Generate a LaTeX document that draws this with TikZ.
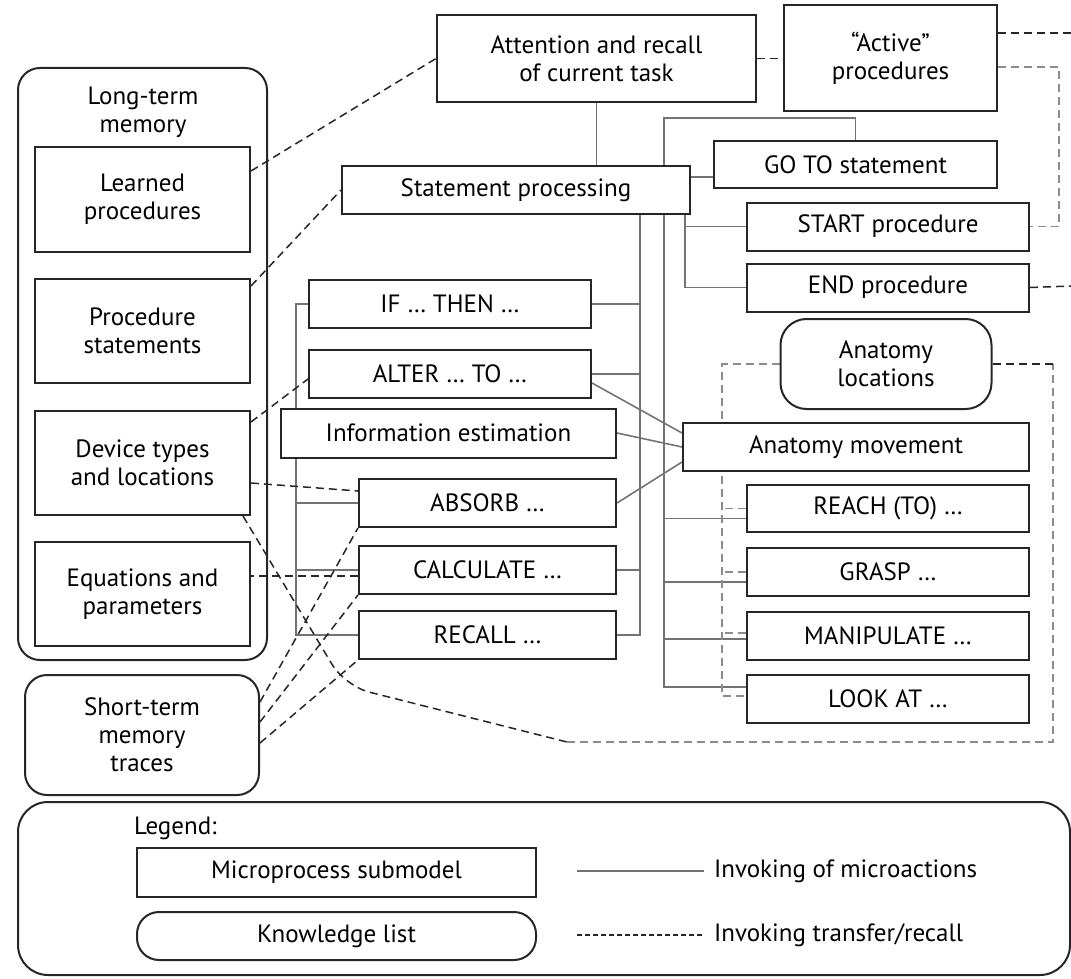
\documentclass[tikz,border=0pt]{standalone}
\usepackage{fontspec}
\setmainfont{PT Sans}
\usepackage{tikz}
\usetikzlibrary{positioning,backgrounds}

\begin{document}
\begin{tikzpicture}[x=1pt,y=-1pt,node distance=14pt,line width=1.5pt,
    font=\fontsize{25}{28}\selectfont,
    micro/.style={draw=black!85,line width=2pt,fill=white,rectangle,minimum height=48pt,align=center,inner sep=2pt},
    know/.style={micro,rounded corners=22pt},
    invoke/.style={draw=black!55,line width=1.6pt},
    transfer/.style={draw=black!85,line width=1.5pt,dash pattern=on 8pt off 5pt},
    transferg/.style={draw=black!45,line width=1.7pt,dash pattern=on 8pt off 5pt}]
    \useasboundingbox (0,0) rectangle (1071,979);

    % knowledge lists
    \node[know,fill=none,minimum width=249pt,minimum height=592pt] (ltm) at (142.5,364) {};
    \node (ltmtitle) [align=center] at (143,112) {Long-term\\memory};
    \node[micro,minimum width=215pt,minimum height=105pt] (learned) at (142.5,199.5) {Learned\\procedures};
    \node[micro,minimum width=215pt,minimum height=104pt] (procst) [below=25pt of learned] {Procedure\\statements};
    \node[micro,minimum width=215pt,minimum height=104pt] (device) [below=26pt of procst] {Device types\\and locations};
    \node[micro,minimum width=215pt,minimum height=104pt] (equat) [below=25pt of device] {Equations and\\parameters};
    \node[know,minimum width=234pt,minimum height=120pt] (stm) at (142,735) {Short-term\\memory\\traces};
    \node[know,minimum width=211pt,minimum height=90pt,rounded corners=26pt] (anatloc) at (886,364) {Anatomy\\locations};

    % microprocess submodels
    \node[micro,minimum width=319pt,minimum height=87pt] (attn) at (596.5,58.5) {Attention and recall\\of current task};
    \node[micro,minimum width=213pt,minimum height=106pt] (active) at (890.5,58) {“Active”\\procedures};
    \node[micro,minimum width=348pt] (stproc) at (516,190) {Statement processing};
    \node[micro,minimum width=283pt,minimum height=47pt] (goto) at (855.5,164.5) {GO TO statement};
    \node[micro,minimum width=282pt] (start) at (888,226.5) {START procedure};
    \node[micro,minimum width=282pt] (endp) [below=11pt of start] {END procedure};
    \node[micro,minimum width=282pt] (ifthen) at (450,304) {IF … THEN …};
    \node[micro,minimum width=282pt] (alter) [below=20pt of ifthen] {ALTER … TO …};
    \node[micro,minimum width=335pt,minimum height=49pt] (infoest) at (448.5,433) {Information estimation};
    \node[micro,minimum width=257pt] (absorb) at (487.5,503) {ABSORB …};
    \node[micro,minimum width=257pt] (calc) [below=17pt of absorb] {CALCULATE …};
    \node[micro,minimum width=257pt] (recall) [below=15pt of calc] {RECALL …};
    \node[micro,minimum width=346pt] (anatmov) at (856,447) {Anatomy movement};
    \node[micro,minimum width=282pt,minimum height=47pt] (reach) at (888,508.5) {REACH (TO) …};
    \node[micro,minimum width=282pt] (grasp) [below=14pt of reach] {GRASP …};
    \node[micro,minimum width=282pt] (manip) [below=14pt of grasp] {MANIPULATE …};
    \node[micro,minimum width=282pt] (lookat) [below=13pt of manip] {LOOK AT …};

    % legend
    \node[know,fill=none,minimum width=1052pt,minimum height=173pt,rounded corners=30pt] (legend) at (544,888.5) {};
    \node[anchor=west] (legtitle) at (130,828) {Legend:};
    \node[micro,minimum width=399pt,minimum height=49pt] (legmicro) at (336.5,872.5) {Microprocess submodel};
    \node[know,minimum width=399pt] (legknow) at (336.5,936) {Knowledge list};
    \node[anchor=west] (legsolid) at (710,871) {Invoking of microactions};
    \node[anchor=west] (legdash) at (710,935) {Invoking transfer/recall};
    \coordinate (solidA) at (577,871);
    \coordinate (dashA) at (577,935);

    \coordinate (rbus) at (664,118);
    \coordinate (mbus) at ([xshift=-51pt]stproc.south east);
    \coordinate (sbus) at ([xshift=-6pt]stproc.south east);
    \coordinate (lbus) at ([xshift=-12pt]ifthen.west);
    \coordinate (lgbus) at (722,364);
    \coordinate (outA) at (1071,33);
    \coordinate (outE) at (1071,286);
    \coordinate (loopK) at (345,686);
    \coordinate (loopA) at (567,742);
    \coordinate (loopB) at (1053,742);
    \coordinate (loopD) at (1059,150);

    \begin{scope}[on background layer]
        % invoking of microactions
        \draw[invoke] (attn.south) -- (attn.south |- stproc.north);
        \draw[invoke] (goto.north) |- (rbus) |- ([yshift=12pt]lookat.west);
        \foreach \n/\s in {reach/-10,grasp/-10,manip/-3}
            \draw[invoke] ([yshift=\s pt]\n.west) -- ([yshift=\s pt]\n.west -| rbus);
        \draw[invoke] ([yshift=13pt]stproc.east) -- ([yshift=13pt]stproc.east -| goto.west);
        \draw[invoke] (sbus) |- (endp.west);
        \draw[invoke] (start.west) -- (start.west -| sbus);
        \draw[invoke] (mbus) |- (recall.east);
        \foreach \n in {ifthen,alter,calc}
            \draw[invoke] (\n.east) -- (\n.east -| mbus);
        \draw[invoke] (ifthen.west) -- (lbus) |- (recall.west);
        \foreach \n in {absorb,calc}
            \draw[invoke] (\n.west) -- (\n.west -| lbus);
        \draw[invoke] ([yshift=-9pt]alter.east) -- ([yshift=14pt]anatmov.west);
        \draw[invoke] (infoest.east) -- (anatmov.west);
        \draw[invoke] (absorb.east) -- ([yshift=-15pt]anatmov.west);

        % invoking transfer/recall
        \draw[transfer] (attn.east) -- (attn.east -| active.west);
        \draw[transfer] ([yshift=25pt]active.east) -- (outA);
        \draw[transfer] (endp.east) -- (outE);
        \draw[transfer] ([yshift=-25pt]learned.north east) -- (attn.west);
        \draw[transfer] ([yshift=-8pt]procst.north east) -- (stproc.west);
        \draw[transfer] ([yshift=-12pt]device.north east) -- ([yshift=-5pt]alter.west);
        \draw[transfer] ([yshift=-20pt]device.east) -- ([yshift=12pt]absorb.west);
        \draw[transfer] ([yshift=-6pt]calc.west) -- ([yshift=-6pt]calc.west -| equat.east);
        \draw[transfer] ([yshift=33pt]stm.east) -- (absorb.south west);
        \draw[transfer] ([yshift=13pt]stm.east) -- (calc.south west);
        \draw[transfer] ([yshift=-8pt]stm.east) -- (recall.south west);
        \draw[transfer,rounded corners=25pt] ([xshift=-8pt]device.south east) -- (loopK) -- (loopA);
        \draw[transferg] (loopA) -- (loopB) -- (anatloc.east -| loopB);
        \draw[transfer] (anatloc.east) -- (anatloc.east -| loopB);
        \draw[transferg] ([yshift=-9pt]active.east) -| (loopD) |- (start.east);
        \draw[transferg] (anatloc.west) -- (lgbus) |- ([yshift=3pt]lookat.west);
        \foreach \n/\s in {reach/0,grasp/0,manip/3}
            \draw[transferg] ([yshift=\s pt]\n.west) -- ([yshift=\s pt]\n.west -| lgbus);

        \draw[invoke] (solidA) -- ([xshift=-6pt]legsolid.west);
        \draw[transfer,dash pattern=on 5pt off 3pt] (dashA) -- ([xshift=-6pt]legdash.west);
    \end{scope}
\end{tikzpicture}
\end{document}
